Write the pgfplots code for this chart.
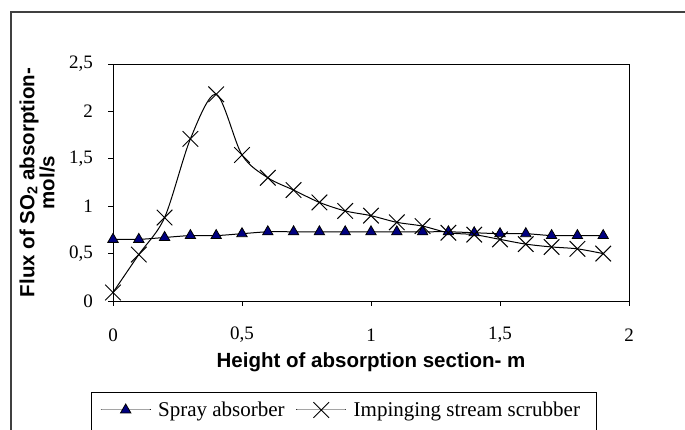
\documentclass[border=0pt]{standalone}
\usepackage{fontspec}
\setmainfont{Liberation Serif}
\setsansfont{Liberation Sans}
\usepackage{pgfplots}
\pgfplotsset{compat=1.18}
\definecolor{navy}{RGB}{0,0,128}
\definecolor{framegray}{RGB}{64,64,64}
\begin{document}
\begin{tikzpicture}[x=1pt,y=1pt]
\useasboundingbox (0,0) rectangle (685,430);
\clip (0,0) rectangle (685,430);
\draw[framegray, line width=1.8pt] (11,-5) -- (11,418) -- (690,418);
\begin{axis}[
  at={(113pt,129pt)}, anchor=south west,
  scale only axis, width=516pt, height=237pt,
  xmin=0, xmax=2, ymin=0, ymax=2.5,
  xtick={0,0.5,1,1.5,2}, xticklabels={0,{0,5},1,{1,5},2},
  ytick={0,0.5,1,1.5,2,2.5}, yticklabels={0,{0,5},1,{1,5},2,{2,5}},
  tick align=outside, tick pos=left, major tick length=5pt,
  tick style={black, line width=0.8pt},
  axis line style={black, line width=0.8pt},
  ticklabel style={font=\fontsize{19}{20}\selectfont, inner sep=0pt},
  xticklabel style={anchor=center, yshift=-29pt},
  yticklabel style={anchor=east, xshift=-15pt},
  clip=false,
  xlabel={Height of absorption section- m},
  ylabel={Flux of SO\textsubscript{2} absorption-\\mol/s},
  label style={font=\fontsize{20.5}{20}\selectfont\sffamily\bfseries},
  xlabel style={at={(axis description cs:0.5,-0.258)}, anchor=center},
  ylabel style={at={(axis description cs:-0.147,0.5)}, anchor=center, align=center},
  legend style={at={(axis description cs:-0.0252,-0.4599)}, anchor=west, draw=none, fill=none,
    legend columns=2, font=\fontsize{21}{22}\selectfont, inner sep=0pt,
    nodes={inner sep=0pt},
    /tikz/every odd column/.append style={column sep=7pt},
    /tikz/every even column/.append style={column sep=11pt}},
  legend image code/.code={\draw[mark repeat=2, mark phase=2, #1] plot coordinates {(0pt,0pt) (25pt,0pt) (50pt,0pt)};},
]
\addplot[black, line width=1pt, smooth, tension=0.5, mark=triangle*, mark size=6pt,
  mark options={fill=navy, draw=black, line width=0.8pt}] coordinates {
  (0,0.65) (0.1,0.65) (0.2,0.67) (0.3,0.69) (0.4,0.69) (0.5,0.71) (0.6,0.73) (0.7,0.73)
  (0.8,0.73) (0.9,0.73) (1.0,0.73) (1.1,0.73) (1.2,0.73) (1.3,0.73) (1.4,0.72) (1.5,0.71)
  (1.6,0.71) (1.7,0.69) (1.8,0.69) (1.9,0.69)};
\addlegendentry{Spray absorber}
\addplot[black, line width=1pt, smooth, tension=0.5, mark=x, mark size=11pt,
  mark options={line width=1pt}] coordinates {
  (0,0.09) (0.1,0.49) (0.2,0.88) (0.3,1.71) (0.4,2.18) (0.5,1.54) (0.6,1.30) (0.7,1.17)
  (0.8,1.04) (0.9,0.95) (1.0,0.90) (1.1,0.83) (1.2,0.79) (1.3,0.72) (1.4,0.70) (1.5,0.65)
  (1.6,0.60) (1.7,0.57) (1.8,0.55) (1.9,0.50)};
\addlegendentry{Impinging stream scrubber}
\end{axis}
\draw[black, line width=0.8pt] (91,-10) -- (91,38) -- (596,38) -- (596,-10);
\end{tikzpicture}
\end{document}
